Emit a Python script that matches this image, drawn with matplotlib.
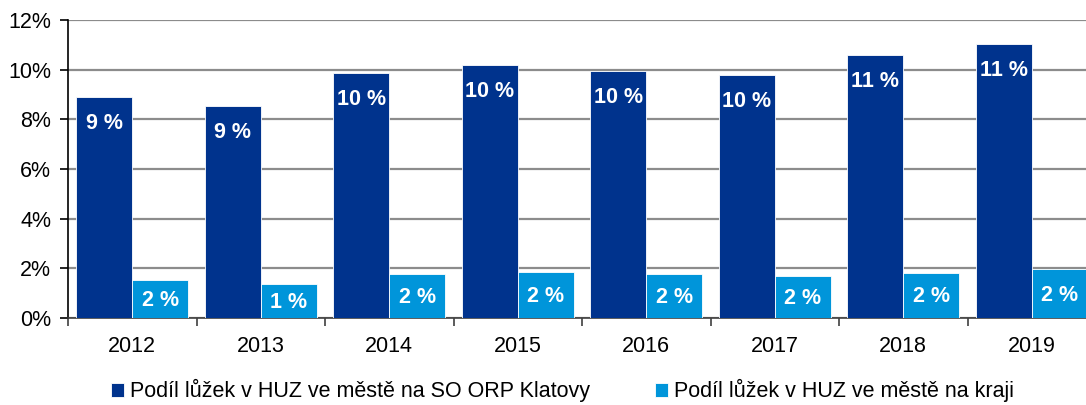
import numpy as np
import matplotlib
matplotlib.use("Agg")
import matplotlib.pyplot as plt
from matplotlib.ticker import FuncFormatter, FixedLocator

plt.rcParams['font.family'] = ['Liberation Sans', 'DejaVu Sans']

years = ['2012', '2013', '2014', '2015', '2016', '2017', '2018', '2019']
klatovy = [8.91, 8.52, 9.87, 10.19, 9.95, 9.79, 10.59, 11.03]
kraj = [1.52, 1.38, 1.77, 1.85, 1.77, 1.69, 1.82, 1.96]
series_names = ['Podíl lůžek v HUZ ve městě na SO ORP Klatovy',
                'Podíl lůžek v HUZ ve městě na kraji']

dark = '#00338D'
light = '#0095DA'
fs = 15.5

fig = plt.figure(figsize=(10.86, 4.05), dpi=100)
ax = fig.add_axes([68 / 1086, 1 - 318 / 405, 1028 / 1086, 298 / 405])

x = np.arange(len(years))
w = 0.436
b1 = ax.bar(x - w / 2, klatovy, w, color=dark, edgecolor='white', linewidth=0.6,
            label=series_names[0], zorder=3)
b2 = ax.bar(x + w / 2, kraj, w, color=light, edgecolor='white', linewidth=0.6,
            label=series_names[1], zorder=3)

# labels inside the top of the bars
for rect, v in zip(b1, klatovy):
    ax.annotate(f"{round(v):.0f} %", (rect.get_x() + rect.get_width() / 2, v),
                xytext=(0, -19), textcoords='offset points', ha='center', va='center',
                color='white', fontsize=fs, fontweight='bold', zorder=4)
for rect, v in zip(b2, kraj):
    ax.annotate(f"{round(v):.0f} %", (rect.get_x() + rect.get_width() / 2, v / 2),
                xytext=(0, -1), textcoords='offset points', ha='center', va='center',
                color='white', fontsize=fs, fontweight='bold', zorder=4)

ax.set_ylim(0, 12)
ax.set_xlim(-0.5, len(years) - 0.5)
ax.set_yticks(np.arange(0, 13, 2))
ax.yaxis.set_major_formatter(FuncFormatter(lambda v, p: f"{v:.0f}%"))
ax.set_xticks(x)
ax.set_xticklabels(years)
ax.xaxis.set_minor_locator(FixedLocator(np.arange(-0.5, len(years), 1)))
ax.tick_params(axis='x', which='major', length=0, pad=13, labelsize=fs)
ax.tick_params(axis='x', which='minor', length=6, width=1.2, color='#404040')
ax.tick_params(axis='y', length=6, width=1.2, labelsize=fs, pad=6)
ax.grid(axis='y', color='#8c8c8c', linewidth=1.6, zorder=0)
ax.set_axisbelow(True)
for s in ['top', 'right']:
    ax.spines[s].set_visible(False)
ax.spines['left'].set_color('black')
ax.spines['left'].set_linewidth(1.2)
ax.spines['bottom'].set_color('#404040')
ax.spines['bottom'].set_linewidth(1.2)

fig.legend(handles=[b1, b2], labels=series_names, loc='center', ncol=2,
           bbox_to_anchor=(0.518, 0.035), frameon=False, fontsize=fs,
           handlelength=0.6, handleheight=0.6, handletextpad=0.3, columnspacing=3.0,
           borderpad=0.2)

fig.savefig('out.png', dpi=100)
